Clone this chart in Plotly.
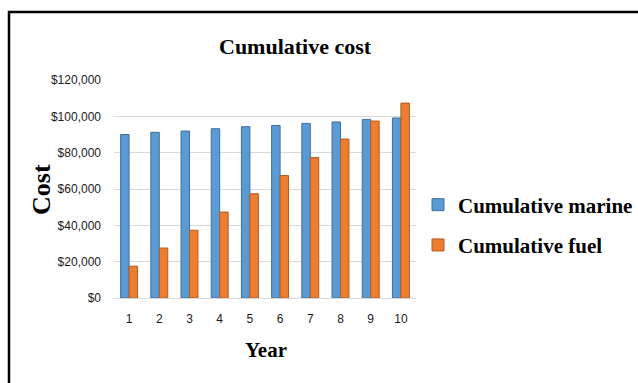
import plotly.graph_objects as go

# Cumulative cost over ten years
years = ["1", "2", "3", "4", "5", "6", "7", "8", "9", "10"]
cumulative_marine = [90000, 91200, 91900, 93200, 94300, 95000, 96100, 96900, 98300, 99100]
cumulative_fuel = [17500, 27500, 37300, 47300, 57400, 67400, 77300, 87500, 97400, 107300]
y_tick_values = [0, 20000, 40000, 60000, 80000, 100000, 120000]
y_tick_labels = ["$0", "$20,000", "$40,000", "$60,000", "$80,000", "$100,000", "$120,000"]

serif = "Liberation Serif, Times New Roman, serif"
sans = "Liberation Sans Narrow, Liberation Sans, Arial, sans-serif"

fig = go.Figure()
fig.add_trace(go.Bar(
    x=years, y=cumulative_marine, name="<b>Cumulative marine</b>",
    legendgroup="marine",
    marker=dict(color="#5B9BD5", line=dict(color="#3F6F9E", width=1)),
))
fig.add_trace(go.Bar(
    x=years, y=cumulative_fuel, name="<b>Cumulative fuel</b>",
    legendgroup="fuel",
    marker=dict(color="#ED7D31", line=dict(color="#B25C22", width=1)),
))

W, H = 638, 383
L, R, T, B = 114, 222, 80, 85
pw, ph = W - L - R, H - T - B

def px_x(x):
    return (x - L) / pw

def px_y(y):
    return (H - B - y) / ph

fig.update_layout(
    width=W, height=H,
    margin=dict(l=L, r=R, t=T, b=B, autoexpand=False),
    paper_bgcolor="white", plot_bgcolor="white",
    barmode="group", bargap=0.44, bargroupgap=0.0,
    xaxis=dict(
        tickfont=dict(family=sans, size=12, color="#1a1a1a"),
        showgrid=False, showline=False, ticks="", ticklabelstandoff=12,
    ),
    yaxis=dict(
        range=[0, 120000],
        tickvals=y_tick_values, ticktext=y_tick_labels,
        tickfont=dict(family=sans, size=12, color="#1a1a1a"),
        showgrid=True, gridcolor="#D9D9D9", gridwidth=1,
        zeroline=True, zerolinecolor="#D9D9D9", zerolinewidth=1,
        showline=False, ticks="", ticklabelstandoff=12,
    ),
    legend=dict(
        x=px_x(418), xanchor="left", y=px_y(225), yanchor="middle",
        font=dict(family=serif, size=21, color="black"),
        tracegroupgap=10, itemwidth=30, bgcolor="rgba(0,0,0,0)",
    ),
    showlegend=True,
)

# Chart title and axis titles
fig.add_annotation(text="<b>Cumulative cost</b>", xref="paper", yref="paper",
                   x=px_x(295), y=px_y(47), xanchor="center", yanchor="middle",
                   showarrow=False, font=dict(family=serif, size=22, color="black"))
fig.add_annotation(text="<b>Year</b>", xref="paper", yref="paper",
                   x=px_x(266), y=px_y(350), xanchor="center", yanchor="middle",
                   showarrow=False, font=dict(family=serif, size=21, color="black"))
fig.add_annotation(text="<b>Cost</b>", xref="paper", yref="paper",
                   x=px_x(41), y=px_y(190), xanchor="center", yanchor="middle",
                   textangle=-90, showarrow=False,
                   font=dict(family=serif, size=26, color="black"))

# Outer frame of the chart area
fig.add_shape(type="rect", xref="paper", yref="paper",
              x0=px_x(9), x1=px_x(W + 10), y0=px_y(H + 10), y1=px_y(12),
              line=dict(color="black", width=2.5), fillcolor="rgba(0,0,0,0)",
              layer="above")

fig.write_html("out.html")
